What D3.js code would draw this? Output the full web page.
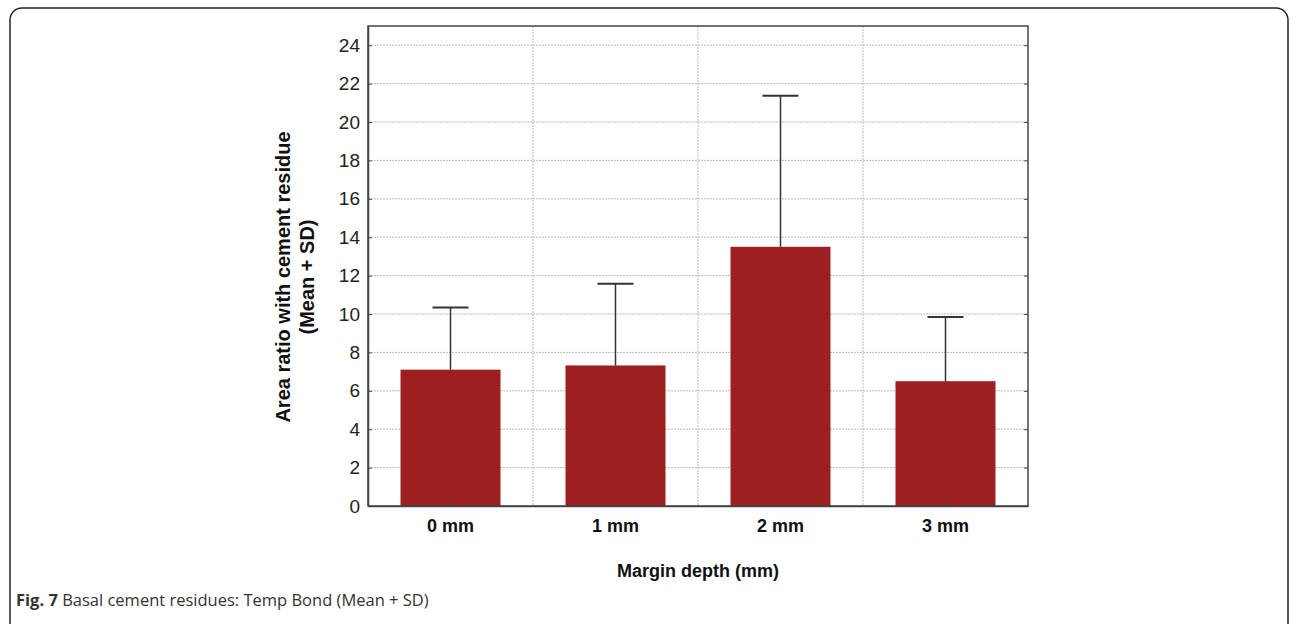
<!DOCTYPE html>
<html>
<head>
<meta charset="utf-8">
<title>Basal cement residues: Temp Bond</title>
<script src="https://cdn.jsdelivr.net/npm/d3@7"></script>
<style>
body { margin: 0; background: #fff; }
.tick text { font-family: "Liberation Sans", Arial, sans-serif; }
</style>
</head>
<body>
<script>
// data
var depths = ["0 mm", "1 mm", "2 mm", "3 mm"];
var means = [7.1, 7.32, 13.5, 6.5];
var sds = [3.24, 4.26, 7.87, 3.35];
var yTicks = [0, 2, 4, 6, 8, 10, 12, 14, 16, 18, 20, 22, 24];

var W = 1292, H = 624;
var margin = {top: 26, right: 264, bottom: 118, left: 368},
    width = W - margin.left - margin.right,
    height = H - margin.top - margin.bottom;

var svg = d3.select("body").append("svg")
    .attr("width", W)
    .attr("height", H);

// figure frame (rounded box, runs off the bottom)
svg.append("rect")
    .attr("x", 10).attr("y", 8)
    .attr("width", 1278).attr("height", 640)
    .attr("rx", 12)
    .style("fill", "none")
    .style("stroke", "#222")
    .style("stroke-width", 1.5);

var g = svg.append("g")
    .attr("transform", "translate(" + margin.left + "," + margin.top + ")");

var x = d3.scaleBand().domain(depths).range([0, width]).paddingInner(0).paddingOuter(0);
var y = d3.scaleLinear().domain([0, 25]).range([height, 0]);

// horizontal grid
g.selectAll(".hgrid")
    .data(yTicks)
  .enter().append("line")
    .attr("x1", 0).attr("x2", width)
    .attr("y1", function(d) { return y(d); })
    .attr("y2", function(d) { return y(d); })
    .style("stroke", "#bbb")
    .style("stroke-dasharray", "2,1");

// vertical grid at category boundaries
g.selectAll(".vgrid")
    .data(depths.slice(1))
  .enter().append("line")
    .attr("x1", function(d) { return x(d); })
    .attr("x2", function(d) { return x(d); })
    .attr("y1", 0).attr("y2", height)
    .style("stroke", "#bbb")
    .style("stroke-dasharray", "2,1");

var barW = x.bandwidth() * 0.606;

// bars
g.selectAll(".bar")
    .data(means)
  .enter().append("rect")
    .attr("x", function(d, i) { return x(depths[i]) + (x.bandwidth() - barW) / 2; })
    .attr("width", barW)
    .attr("y", function(d) { return y(d); })
    .attr("height", function(d) { return height - y(d); })
    .style("fill", "#9e1f1f");

// error bars (mean + SD)
var capW = 36;
var err = g.selectAll(".err")
    .data(means)
  .enter().append("g")
    .attr("transform", function(d, i) { return "translate(" + (x(depths[i]) + x.bandwidth() / 2) + ",0)"; });
err.append("line")
    .attr("x1", 0).attr("x2", 0)
    .attr("y1", function(d) { return y(d); })
    .attr("y2", function(d, i) { return y(d + sds[i]); })
    .style("stroke", "#333").style("stroke-width", 1.5);
err.append("line")
    .attr("x1", -capW / 2).attr("x2", capW / 2)
    .attr("y1", function(d, i) { return y(d + sds[i]); })
    .attr("y2", function(d, i) { return y(d + sds[i]); })
    .style("stroke", "#333").style("stroke-width", 2);

// plot frame
g.append("rect")
    .attr("width", width).attr("height", height)
    .style("fill", "none")
    .style("stroke", "#444")
    .style("stroke-width", 1.5);

// y axis (ticks point inward)
var yAxis = g.append("g")
    .call(d3.axisLeft(y).tickValues(yTicks).tickSizeInner(-4).tickSizeOuter(0).tickPadding(8));
yAxis.select(".domain").style("stroke", "#444").style("stroke-width", 1.5);
yAxis.selectAll(".tick line").style("stroke", "#444");
yAxis.selectAll(".tick text").style("font-size", "19px").style("fill", "#222");

// right side ticks
g.append("g")
    .attr("transform", "translate(" + width + ",0)")
    .call(d3.axisRight(y).tickValues(yTicks).tickSizeInner(-4).tickSizeOuter(0).tickFormat(""))
    .call(function(s) { s.select(".domain").remove(); s.selectAll("line").style("stroke", "#444"); });

// x axis
var xAxis = g.append("g")
    .attr("transform", "translate(0," + height + ")")
    .call(d3.axisBottom(x).tickSizeInner(-4).tickSizeOuter(0).tickPadding(13));
xAxis.select(".domain").style("stroke", "#444").style("stroke-width", 1.5);
xAxis.selectAll(".tick line").style("stroke", "#444");
xAxis.selectAll(".tick text")
    .style("font-size", "18px").style("font-weight", "bold").style("fill", "#111");

// axis titles
svg.append("text")
    .attr("x", margin.left + width / 2)
    .attr("y", 577)
    .style("text-anchor", "middle")
    .style("font", "bold 18px 'Liberation Sans', Arial, sans-serif")
    .style("fill", "#111")
    .text("Margin depth (mm)");

var yl = svg.append("text")
    .attr("transform", "translate(0,277) rotate(-90)")
    .style("text-anchor", "middle")
    .style("font", "bold 20px 'Liberation Sans', Arial, sans-serif")
    .style("fill", "#111");
yl.append("tspan").attr("x", 0).attr("y", 290).text("Area ratio with cement residue");
yl.append("tspan").attr("x", 0).attr("y", 314).text("(Mean + SD)");

// caption
var cap = svg.append("text")
    .attr("x", 16).attr("y", 606)
    .style("font", "16.5px 'Open Sans', sans-serif")
    .style("fill", "#333");
cap.append("tspan").style("font-weight", "bold").text("Fig. 7");
cap.append("tspan").text(" Basal cement residues: Temp Bond (Mean + SD)");
</script>
</body>
</html>
